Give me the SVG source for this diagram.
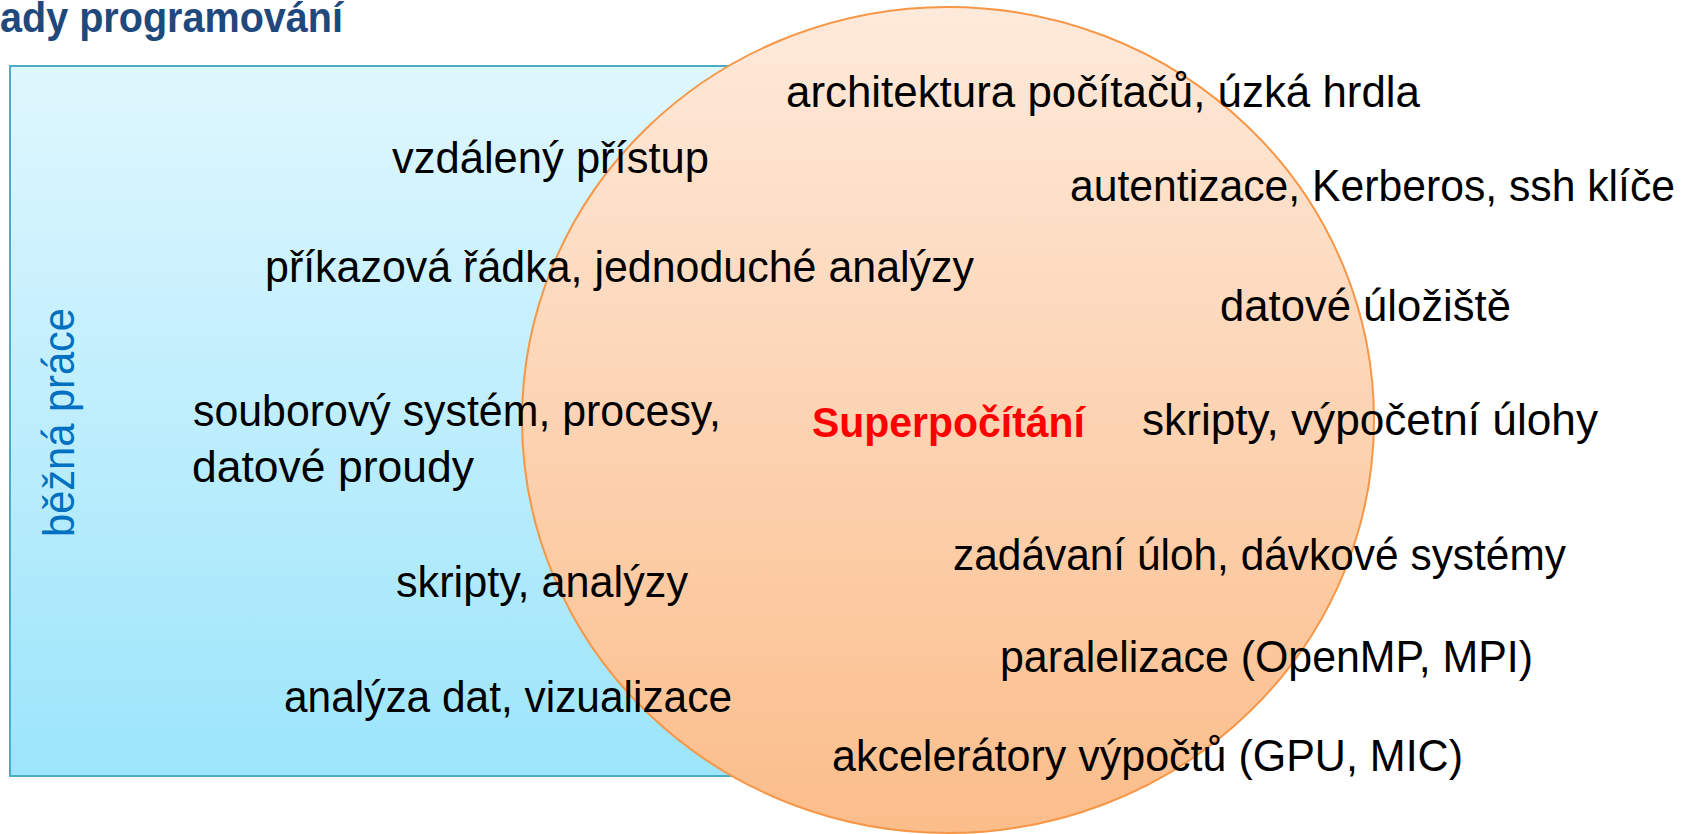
<svg xmlns="http://www.w3.org/2000/svg" width="1692" height="834" viewBox="0 0 1692 834">
  <style>
    .lbl { font-family: "Liberation Sans", Arial, sans-serif; font-size: 44px; fill: #000000; }
    .title { font-family: "Liberation Sans", Arial, sans-serif; font-size: 42px; font-weight: bold; fill: #1F497D; }
    .hpc { font-family: "Liberation Sans", Arial, sans-serif; font-size: 43px; font-weight: bold; fill: #FF0000; }
    .side { font-family: "Liberation Sans", Arial, sans-serif; font-size: 44px; fill: #0070C0; }
  </style>
  <defs>
    <linearGradient id="gBlue" x1="0" y1="0" x2="0" y2="1">
      <stop offset="0" stop-color="#DFF7FE"/>
      <stop offset="1" stop-color="#9CE5FB"/>
    </linearGradient>
    <linearGradient id="gOrange" x1="0" y1="0" x2="0" y2="1">
      <stop offset="0" stop-color="#FEEADB"/>
      <stop offset="1" stop-color="#FBBD8A"/>
    </linearGradient>
  </defs>
  <rect width="1692" height="834" fill="#FFFFFF"/>

  <g id="title">
    <text class="title" x="0" y="32" textLength="343" lengthAdjust="spacingAndGlyphs">ady programování</text>
  </g>

  <g id="bezna-prace">
    <rect x="10" y="66" width="900" height="710" fill="url(#gBlue)" stroke="#4BACC6" stroke-width="2"/>
  </g>

  <g id="superpocitani">
    <ellipse cx="948" cy="420" rx="426" ry="413" fill="url(#gOrange)" stroke="#F79646" stroke-width="2"/>
  </g>

  <g id="connectors"></g>

  <g id="labels">
    <text class="side" transform="translate(74,537) rotate(-90)" x="0" y="0" textLength="229" lengthAdjust="spacingAndGlyphs">běžná práce</text>
    <text class="hpc" x="812" y="437" textLength="273" lengthAdjust="spacingAndGlyphs">Superpočítání</text>

    <text class="lbl" x="786" y="107" textLength="634" lengthAdjust="spacingAndGlyphs">architektura počítačů, úzká hrdla</text>
    <text class="lbl" x="392" y="173" textLength="317" lengthAdjust="spacingAndGlyphs">vzdálený přístup</text>
    <text class="lbl" x="1070" y="201" textLength="605" lengthAdjust="spacingAndGlyphs">autentizace, Kerberos, ssh klíče</text>
    <text class="lbl" x="265" y="282" textLength="709" lengthAdjust="spacingAndGlyphs">příkazová řádka, jednoduché analýzy</text>
    <text class="lbl" x="1220" y="321" textLength="291" lengthAdjust="spacingAndGlyphs">datové úložiště</text>
    <text class="lbl" x="193" y="426" textLength="528" lengthAdjust="spacingAndGlyphs">souborový systém, procesy,</text>
    <text class="lbl" x="192" y="482" textLength="282" lengthAdjust="spacingAndGlyphs">datové proudy</text>
    <text class="lbl" x="1142" y="435" textLength="456" lengthAdjust="spacingAndGlyphs">skripty, výpočetní úlohy</text>
    <text class="lbl" x="953" y="570" textLength="613" lengthAdjust="spacingAndGlyphs">zadávaní úloh, dávkové systémy</text>
    <text class="lbl" x="396" y="597" textLength="292" lengthAdjust="spacingAndGlyphs">skripty, analýzy</text>
    <text class="lbl" x="1000" y="672" textLength="533" lengthAdjust="spacingAndGlyphs">paralelizace (OpenMP, MPI)</text>
    <text class="lbl" x="284" y="712" textLength="448" lengthAdjust="spacingAndGlyphs">analýza dat, vizualizace</text>
    <text class="lbl" x="832" y="771" textLength="631" lengthAdjust="spacingAndGlyphs">akcelerátory výpočtů (GPU, MIC)</text>
  </g>
</svg>
